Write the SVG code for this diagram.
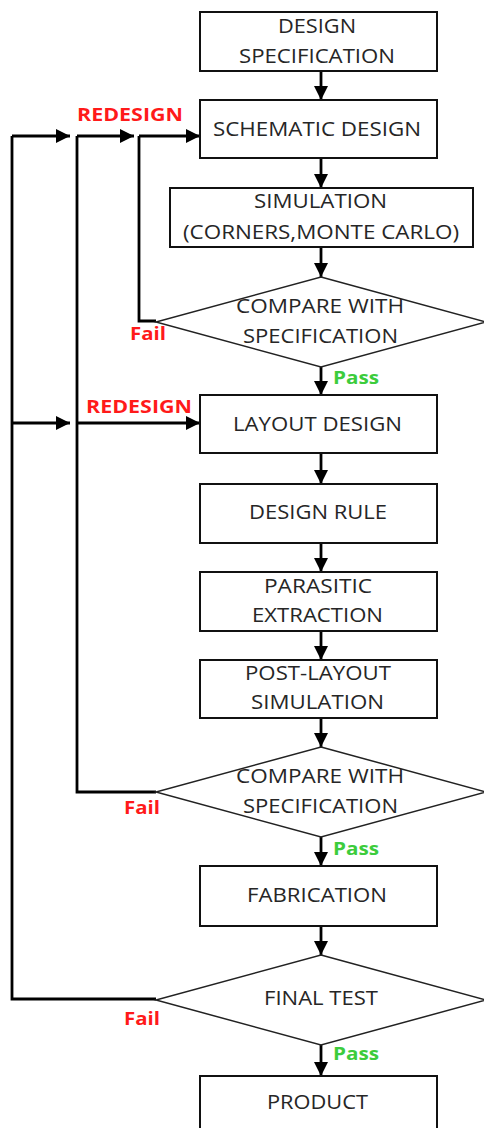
<svg xmlns="http://www.w3.org/2000/svg" width="484" height="1128" viewBox="0 0 484 1128">
  <defs>
    <marker id="arrow" markerUnits="userSpaceOnUse" markerWidth="15" markerHeight="15" viewBox="0 0 15 15" refX="14" refY="7.5" orient="auto">
      <path d="M0,0.5 L14,7.5 L0,14.5 Z" fill="#000"/>
    </marker>
    <style>
      .box { fill: #fff; stroke: #111; stroke-width: 2; }
      .dec { fill: #fff; stroke: #222; stroke-width: 1.5; }
      .t { font-family: "Open Sans", "Liberation Sans", sans-serif; font-size: 20px; fill: #262626; }
      .line { fill: none; stroke: #000; stroke-width: 2.8; }
      .arr { fill: none; stroke: #000; stroke-width: 2.8; marker-end: url(#arrow); }
      .red { font-family: "Open Sans", "Liberation Sans", sans-serif; font-weight: bold; font-size: 17px; fill: #ff1a1a; }
      .green { font-family: "Open Sans", "Liberation Sans", sans-serif; font-weight: bold; font-size: 17px; fill: #3ccc3c; }
    </style>
  </defs>

  <!-- connectors -->
  <g id="connectors">
    <!-- main flow -->
    <line class="arr" x1="321" y1="71" x2="321" y2="100"/>
    <line class="arr" x1="321" y1="158" x2="321" y2="188"/>
    <line class="arr" x1="321" y1="247" x2="321" y2="277"/>
    <line class="arr" x1="321" y1="367" x2="321" y2="395"/>
    <line class="arr" x1="321" y1="453" x2="321" y2="484"/>
    <line class="arr" x1="321" y1="543" x2="321" y2="572"/>
    <line class="arr" x1="321" y1="631" x2="321" y2="660"/>
    <line class="arr" x1="321" y1="718" x2="321" y2="747"/>
    <line class="arr" x1="321" y1="837" x2="321" y2="866"/>
    <line class="arr" x1="321" y1="926" x2="321" y2="955"/>
    <line class="arr" x1="321" y1="1045" x2="321" y2="1076"/>

    <!-- feedback loops -->
    <polyline class="line" points="156,321 139,321 139,136"/>
    <line class="arr" x1="139" y1="136" x2="200" y2="136"/>

    <polyline class="line" points="156,792 77,792 77,136"/>
    <line class="arr" x1="77" y1="136" x2="134" y2="136"/>
    <line class="arr" x1="77" y1="423" x2="200" y2="423"/>

    <polyline class="line" points="156,999 12,999 12,136"/>
    <line class="arr" x1="12" y1="136" x2="70" y2="136"/>
    <line class="arr" x1="12" y1="423" x2="70" y2="423"/>
  </g>

  <g id="design-spec">
    <rect class="box" x="200" y="12" width="237" height="59"/>
    <text class="t" x="278" y="33" textLength="78" lengthAdjust="spacingAndGlyphs">DESIGN</text>
    <text class="t" x="239" y="63" textLength="156" lengthAdjust="spacingAndGlyphs">SPECIFICATION</text>
  </g>

  <g id="schematic-design">
    <rect class="box" x="200" y="100" width="237" height="58"/>
    <text class="t" x="213" y="136" textLength="208" lengthAdjust="spacingAndGlyphs">SCHEMATIC DESIGN</text>
  </g>

  <g id="simulation">
    <rect class="box" x="170" y="188" width="303" height="59"/>
    <text class="t" x="254" y="208" textLength="133" lengthAdjust="spacingAndGlyphs">SIMULATION</text>
    <text class="t" x="183" y="239" textLength="276" lengthAdjust="spacingAndGlyphs">(CORNERS,MONTE CARLO)</text>
  </g>

  <g id="compare-1">
    <polygon class="dec" points="321,277 486,322 321,367 156,322"/>
    <text class="t" x="236" y="313" textLength="168" lengthAdjust="spacingAndGlyphs">COMPARE WITH</text>
    <text class="t" x="243" y="343" textLength="155" lengthAdjust="spacingAndGlyphs">SPECIFICATION</text>
  </g>

  <g id="layout-design">
    <rect class="box" x="200" y="395" width="237" height="58"/>
    <text class="t" x="233" y="431" textLength="169" lengthAdjust="spacingAndGlyphs">LAYOUT DESIGN</text>
  </g>

  <g id="design-rule">
    <rect class="box" x="200" y="484" width="237" height="59"/>
    <text class="t" x="249" y="519" textLength="138" lengthAdjust="spacingAndGlyphs">DESIGN RULE</text>
  </g>

  <g id="parasitic-extraction">
    <rect class="box" x="200" y="572" width="237" height="59"/>
    <text class="t" x="264" y="593" textLength="108" lengthAdjust="spacingAndGlyphs">PARASITIC</text>
    <text class="t" x="252" y="622" textLength="131" lengthAdjust="spacingAndGlyphs">EXTRACTION</text>
  </g>

  <g id="post-layout-simulation">
    <rect class="box" x="200" y="660" width="237" height="58"/>
    <text class="t" x="245" y="680" textLength="146" lengthAdjust="spacingAndGlyphs">POST-LAYOUT</text>
    <text class="t" x="251" y="709" textLength="133" lengthAdjust="spacingAndGlyphs">SIMULATION</text>
  </g>

  <g id="compare-2">
    <polygon class="dec" points="321,747 486,792 321,837 156,792"/>
    <text class="t" x="236" y="783" textLength="168" lengthAdjust="spacingAndGlyphs">COMPARE WITH</text>
    <text class="t" x="243" y="813" textLength="155" lengthAdjust="spacingAndGlyphs">SPECIFICATION</text>
  </g>

  <g id="fabrication">
    <rect class="box" x="200" y="866" width="237" height="60"/>
    <text class="t" x="247" y="902" textLength="140" lengthAdjust="spacingAndGlyphs">FABRICATION</text>
  </g>

  <g id="final-test">
    <polygon class="dec" points="321,955 486,1000 321,1045 156,1000"/>
    <text class="t" x="264" y="1005" textLength="114" lengthAdjust="spacingAndGlyphs">FINAL TEST</text>
  </g>

  <g id="product">
    <rect class="box" x="200" y="1076" width="237" height="60"/>
    <text class="t" x="267" y="1109" textLength="101" lengthAdjust="spacingAndGlyphs">PRODUCT</text>
  </g>

  <!-- branch labels -->
  <g id="labels">
    <text class="red" x="77" y="121" textLength="106" lengthAdjust="spacingAndGlyphs">REDESIGN</text>
    <text class="red" x="86" y="413" textLength="106" lengthAdjust="spacingAndGlyphs">REDESIGN</text>
    <text class="red" x="130" y="340" textLength="36" lengthAdjust="spacingAndGlyphs">Fail</text>
    <text class="red" x="124" y="814" textLength="36" lengthAdjust="spacingAndGlyphs">Fail</text>
    <text class="red" x="124" y="1025" textLength="36" lengthAdjust="spacingAndGlyphs">Fail</text>
    <text class="green" x="333" y="384" textLength="46" lengthAdjust="spacingAndGlyphs">Pass</text>
    <text class="green" x="333" y="855" textLength="46" lengthAdjust="spacingAndGlyphs">Pass</text>
    <text class="green" x="333" y="1060" textLength="46" lengthAdjust="spacingAndGlyphs">Pass</text>
  </g>
</svg>
